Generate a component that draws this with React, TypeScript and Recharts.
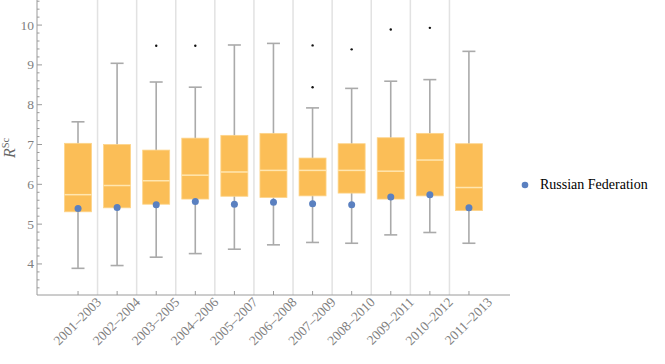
import React from "react";
import { Bar, ComposedChart, Legend, Line, ReferenceLine, XAxis, YAxis } from "recharts";

const periods = [
  "2001–2003", "2002–2004", "2003–2005", "2004–2006", "2005–2007", "2006–2008",
  "2007–2009", "2008–2010", "2009–2011", "2010–2012", "2011–2013",
];
const whiskerLow = [3.89, 3.96, 4.17, 4.26, 4.37, 4.48, 4.54, 4.52, 4.73, 4.79, 4.52];
const q1 = [5.31, 5.41, 5.5, 5.63, 5.7, 5.67, 5.71, 5.78, 5.63, 5.71, 5.34];
const median = [5.74, 5.97, 6.09, 6.23, 6.31, 6.35, 6.35, 6.35, 6.33, 6.61, 5.92];
const q3 = [7.03, 7.0, 6.86, 7.16, 7.23, 7.28, 6.66, 7.02, 7.17, 7.28, 7.02];
const whiskerHigh = [7.57, 9.04, 8.57, 8.44, 9.5, 9.54, 7.92, 8.41, 8.59, 8.63, 9.34];
const outlierA = [null, null, 9.48, 9.48, null, null, 9.49, 9.39, 9.89, 9.93, null];
const outlierB = [null, null, null, null, null, null, 8.44, null, null, null, null];
const russia = [5.39, 5.42, 5.49, 5.57, 5.5, 5.55, 5.51, 5.49, 5.68, 5.74, 5.41];

const yTicks = [
  3.4, 3.6, 3.8, 4, 4.2, 4.4, 4.6, 4.8, 5, 5.2, 5.4, 5.6, 5.8, 6, 6.2, 6.4, 6.6, 6.8,
  7, 7.2, 7.4, 7.6, 7.8, 8, 8.2, 8.4, 8.6, 8.8, 9, 9.2, 9.4, 9.6, 9.8, 10, 10.2, 10.4, 10.6,
];
// separators halfway between neighbouring category indices
const gridBounds = [0.5, 1.5, 2.5, 3.5, 4.5, 5.5, 6.5, 7.5, 8.5, 9.5];

const data = periods.map((p, i) => ({
  period: p,
  low: whiskerLow[i], q1: q1[i], med: median[i], q3: q3[i], high: whiskerHigh[i],
  outA: outlierA[i], outB: outlierB[i], russia: russia[i],
}));

const FONT = "Liberation Serif, Times New Roman, serif";
const AXIS = "#9a9a9a";
const BOX = "#fbbe57";
const BLUE = "#5a80c0";

function BoxShape(props: any) {
  const { x, y, width, height, payload } = props;
  const lo = payload.low, hi = payload.high;
  const py = (v: number) => y + (height * (hi - v)) / (hi - lo);
  const cx = x + width / 2;
  const cap = 6.5;
  return (
    <g>
      <line x1={cx} x2={cx} y1={py(hi)} y2={py(lo)} stroke="#aaaaaa" strokeWidth={1.6} />
      <line x1={cx - cap} x2={cx + cap} y1={py(hi)} y2={py(hi)} stroke="#aaaaaa" strokeWidth={1.6} />
      <line x1={cx - cap} x2={cx + cap} y1={py(lo)} y2={py(lo)} stroke="#aaaaaa" strokeWidth={1.6} />
      <rect x={x} y={py(payload.q3)} width={width} height={py(payload.q1) - py(payload.q3)}
        fill={BOX} stroke="#fdd48a" strokeWidth={0.8} />
      <line x1={x} x2={x + width} y1={py(payload.med)} y2={py(payload.med)} stroke="#ffe6b0" strokeWidth={1.5} />
    </g>
  );
}

function YTick({ x, y, payload }: any) {
  const v = payload.value;
  const major = Math.abs(v - Math.round(v)) < 1e-6;
  return (
    <g>
      <line x1={x} x2={x + (major ? 5 : 2.5)} y1={y} y2={y} stroke={AXIS} />
      {major && (
        <text x={x - 3} y={y} dy={4.5} textAnchor="end" fill="#7f7f7f" fontSize={13.5}
          fontFamily="Liberation Serif">
          {Math.round(v)}
        </text>
      )}
    </g>
  );
}

function XTick({ x, y, payload }: any) {
  return (
    <g>
      <line x1={x} x2={x} y1={y} y2={y - 4} stroke={AXIS} />
      <text transform={`translate(${x + 24},${y + 8}) rotate(-45)`} textAnchor="end"
        fill="#7f7f7f" fontSize={13.5} fontFamily="Liberation Serif">
        {payload.value}
      </text>
    </g>
  );
}

function LegendBox() {
  return (
    <div style={{ display: "flex", alignItems: "center", fontFamily: FONT, fontSize: 14, color: "#000" }}>
      <svg width={14} height={10}><circle cx={7} cy={5} r={3.3} fill={BLUE} /></svg>
      <span style={{ marginLeft: 8 }}>Russian Federation</span>
    </div>
  );
}

export default function App() {
  return (
    <div style={{ position: "absolute", left: 0, top: 0, background: "#fff" }}>
      <ComposedChart width={665} height={364} data={data} margin={{ top: 0, right: 155, left: 0, bottom: 0 }}>
        <XAxis dataKey="period" type="category" height={69} padding={{ left: 21.5, right: 21.5 }}
          axisLine={{ stroke: AXIS }} tickLine={false} tickSize={0} tickMargin={0} interval={0} tick={<XTick />} />
        {/* index axis: 0..10 lands on the category centres */}
        <XAxis xAxisId="grid" type="number" domain={[0, 10]} allowDataOverflow hide
          padding={{ left: 41, right: 41 }} />
        <YAxis type="number" width={37} domain={[3.22, 10.63]} ticks={yTicks} interval={0}
          axisLine={{ stroke: AXIS }} tickLine={false} tickSize={0} tickMargin={0} tick={<YTick />}
          allowDataOverflow
          label={() => (
            <text transform="translate(15,158) rotate(-90)" fill="#666" fontFamily="Liberation Serif">
              <tspan fontStyle="italic" fontSize={16}>R</tspan>
              <tspan fontSize={10.5} dy={-6}>Sc</tspan>
            </text>
          )} />
        {gridBounds.map((b) => (
          <ReferenceLine key={b} xAxisId="grid" x={b} stroke="#e2e2e2" strokeWidth={1.5} />
        ))}
        <Bar dataKey={(d: any) => [d.low, d.high]} barSize={27} shape={<BoxShape />}
          isAnimationActive={false} legendType="none" />
        <Line dataKey="outA" stroke="none" dot={{ r: 1.2, fill: "#111", stroke: "none" }} activeDot={false}
          isAnimationActive={false} legendType="none" />
        <Line dataKey="outB" stroke="none" dot={{ r: 1.2, fill: "#111", stroke: "none" }} activeDot={false}
          isAnimationActive={false} legendType="none" />
        <Line dataKey="russia" stroke="none" dot={{ r: 3.5, fill: BLUE, stroke: "none" }} activeDot={false}
          isAnimationActive={false} />
        <Legend layout="vertical" align="center" verticalAlign="middle" content={<LegendBox />}
          wrapperStyle={{ position: "absolute", left: 518, top: 177, width: 150 }} />
      </ComposedChart>
    </div>
  );
}
